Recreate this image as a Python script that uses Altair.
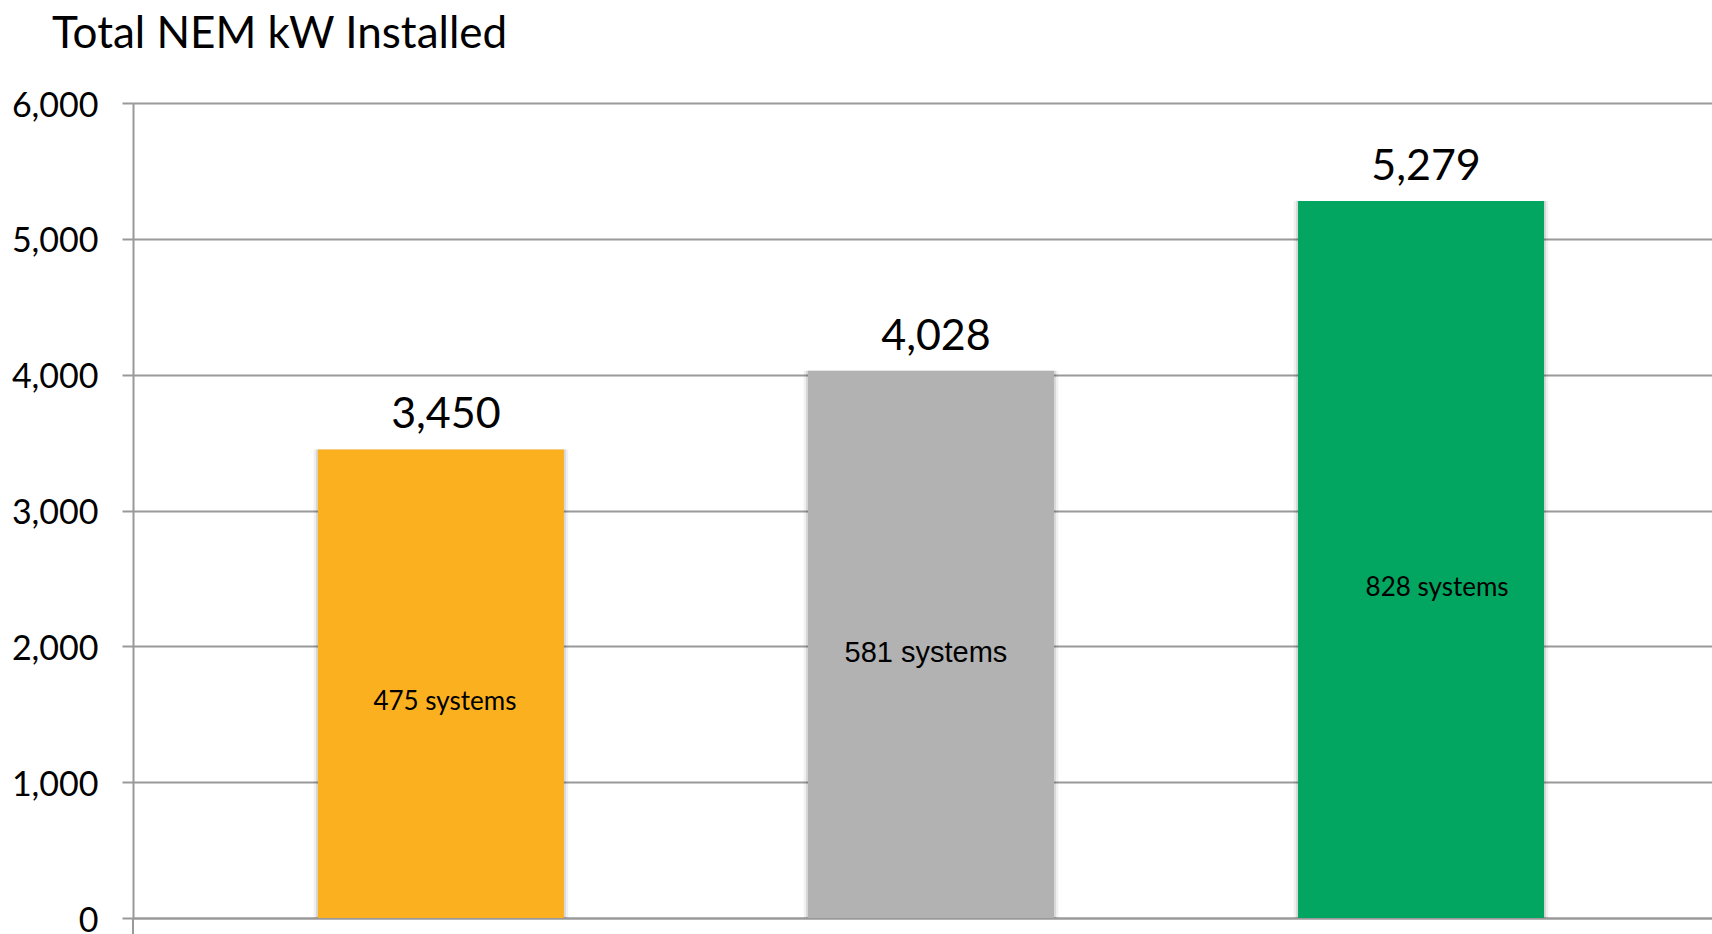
import altair as alt
import pandas as pd

categories = ["Period 1", "Period 2", "Period 3"]
kw_installed = [3450, 4028, 5279]
systems = [475, 581, 828]
colors = ["#FBB11F", "#B2B2B2", "#02A660"]

df = pd.DataFrame({
    "cat": categories,
    "kw": kw_installed,
    "systems": systems,
    "color": colors,
})
df["kw_label"] = [f"{v:,}" for v in kw_installed]
df["sys_label"] = [f"{s} systems" for s in systems]

W, H = 1579, 815

x = alt.X("cat:N", sort=categories,
          scale=alt.Scale(paddingInner=0.498, paddingOuter=0.36, align=0.524),
          axis=alt.Axis(labels=False, ticks=False, title=None, domain=True,
                        domainColor="#999999", domainWidth=2, grid=False))
y = alt.Y("kw:Q", scale=alt.Scale(domain=[0, 6000], nice=False),
          axis=alt.Axis(values=[0, 1000, 2000, 3000, 4000, 5000, 6000], format=",.0f",
                        title=None, grid=True, gridColor="#999999", gridWidth=2,
                        domainColor="#999999", domainWidth=2,
                        tickColor="#999999", tickWidth=2, tickSize=11,
                        labelFont="Lato", labelFontSize=34, labelColor="#000000",
                        labelPadding=24, labelOffset=3))

base = alt.Chart(df)
xs = alt.X("cat:N", sort=categories)

shadow1 = base.mark_bar(color="#000000", opacity=0.06, width=alt.RelativeBandSize(1.035)).encode(x=x, y=y)
shadow2 = base.mark_bar(color="#000000", opacity=0.10, width=alt.RelativeBandSize(1.016)).encode(x=x, y=y)

bars = base.mark_bar().encode(
    x=x, y=y,
    color=alt.Color("color:N", scale=None),
)

value_text = base.mark_text(font="Lato", fontSize=43, color="#000000",
                            baseline="alphabetic", dy=-21, dx=5).encode(
    x=xs, y="kw:Q", text="kw_label:N")

inner_a = base.transform_filter(alt.datum.systems == 475).transform_calculate(
    ly="datum.kw * 0.46").mark_text(font="Lato", fontSize=26, color="#000000",
                                     baseline="middle", dx=4).encode(
    x=xs, y=alt.Y("ly:Q"), text="sys_label:N")

inner_c = base.transform_filter(alt.datum.systems == 828).transform_calculate(
    ly="datum.kw * 0.46").mark_text(font="Lato", fontSize=26, color="#000000",
                                     baseline="middle", dx=16).encode(
    x=xs, y=alt.Y("ly:Q"), text="sys_label:N")

inner_b = base.transform_filter(alt.datum.systems == 581).transform_calculate(
    ly="datum.kw * 0.485").mark_text(font="Liberation Sans", fontSize=29, color="#000000",
                                      baseline="middle", dx=-5).encode(
    x=xs, y=alt.Y("ly:Q"), text="sys_label:N")

axis_ext = alt.Chart(pd.DataFrame({"a": [0]})).mark_rule(color="#999999", strokeWidth=2).encode(
    x=alt.value(0), y=alt.value(H), y2=alt.value(H + 16))

chart = alt.layer(shadow1, shadow2, bars, value_text, inner_a, inner_b, inner_c, axis_ext).properties(
    width=W, height=H,
    title=alt.TitleParams("Total NEM kW Installed", anchor="start", frame="group",
                          dx=-81, font="Lato", fontSize=44, fontWeight="normal",
                          color="#000000", offset=32),
    autosize=alt.AutoSizeParams(type="none"),
    padding={"left": 133, "top": 103, "right": 0, "bottom": 16},
).configure_view(stroke=None).configure(background="#ffffff")

chart.save("out.html", embed_options={"renderer": "svg", "actions": False})
